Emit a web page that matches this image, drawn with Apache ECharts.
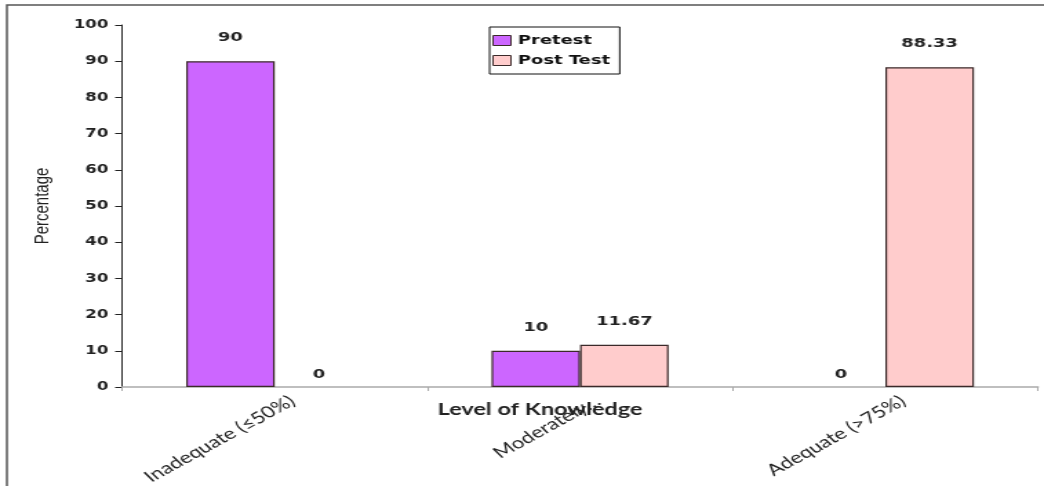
<!DOCTYPE html>
<html>
<head>
<meta charset="utf-8">
<script src="https://cdn.jsdelivr.net/npm/echarts@6/dist/echarts.min.js"></script>
<style>
  html, body { margin: 0; padding: 0; background: #fff; overflow: hidden; }
  #wrap { width: 1044px; height: 486px; overflow: hidden; }
  /* the figure is laid out narrower and widened to the full frame */
  #chart { width: 757px; height: 486px; transform: scaleX(1.3791); transform-origin: 0 0; }
</style>
</head>
<body>
<div id="wrap"><div id="chart"></div></div>
<script>
const categories = ['Inadequate (≤50%)', 'Moderately…', 'Adequate (>75%)'];
const seriesNames = ['Pretest', 'Post Test'];
const pretest = [90, 10, 0];
const postTest = [0, 11.67, 88.33];
const yTicks = { min: 0, max: 100, interval: 10 };

const colors = ['#cc66ff', '#ffcccc'];
const valueFont = { fontFamily: 'DejaVu Sans', fontWeight: 'bold', fontSize: 13, color: '#222' };

function barSeries(name, values, color) {
  return {
    name: name,
    type: 'bar',
    barGap: '0%',
    barCategoryGap: '42%',
    itemStyle: { color: color, borderColor: '#3b2a2a', borderWidth: 1.2 },
    data: values.map(v => ({
      value: v,
      // an empty bar keeps its value label but shows no outline
      itemStyle: v === 0 ? { borderWidth: 0 } : undefined,
      label: {
        show: true,
        position: 'top',
        distance: v === 0 ? 6 : 17,
        formatter: p => String(p.value),
        ...valueFont
      }
    }))
  };
}

const chart = echarts.init(document.getElementById('chart'), null, { renderer: 'canvas' });
chart.setOption({
  animation: false,
  backgroundColor: '#fff',
  grid: { left: 88.5, right: 4.3, top: 25, bottom: 99, containLabel: false, outerBoundsMode: 'none' },
  legend: {
    data: seriesNames,
    orient: 'vertical',
    left: 355,
    top: 27,
    itemWidth: 13,
    itemHeight: 10,
    itemGap: 7,
    padding: [7, 7, 7, 2],
    borderColor: '#111',
    borderWidth: 1,
    backgroundColor: '#fff',
    icon: 'rect',
    itemStyle: { borderColor: '#3b2a2a', borderWidth: 1 },
    textStyle: { fontFamily: 'DejaVu Sans', fontWeight: 'bold', fontSize: 13, color: '#111' }
  },
  xAxis: {
    type: 'category',
    data: categories,
    name: 'Level of Knowledge',
    nameLocation: 'middle',
    nameGap: 14,
    nameMoveOverlap: false,
    nameTextStyle: {
      fontFamily: 'Lato', fontWeight: 'bold', fontSize: 17, color: '#222',
      padding: [0, 58, 0, 0]
    },
    axisLine: { lineStyle: { color: '#aaaaaa', width: 1.5 } },
    axisTick: { show: true, length: 4, lineStyle: { color: '#aaaaaa' } },
    axisLabel: {
      rotate: 37, margin: 12, verticalAlign: 'top', padding: [0, -10, 0, 0],
      fontFamily: 'Lato', fontSize: 16, color: '#222'
    }
  },
  yAxis: {
    type: 'value',
    min: yTicks.min,
    max: yTicks.max,
    interval: yTicks.interval,
    name: 'Percentage',
    nameLocation: 'middle',
    nameRotate: 90,
    nameGap: 50,
    nameTextStyle: { fontFamily: 'Liberation Sans', fontSize: 15, color: '#222' },
    splitLine: { show: false },
    axisLine: { show: true, lineStyle: { color: '#222', width: 1 } },
    axisTick: { show: true, inside: false, length: 5, lineStyle: { color: '#222' } },
    axisLabel: { margin: 10, fontFamily: 'DejaVu Sans', fontWeight: 'bold', fontSize: 12, color: '#222' }
  },
  graphic: [{
    type: 'rect',
    silent: true,
    z: -1,
    shape: { x: 5, y: 5, width: 2000, height: 2000 },
    style: { fill: 'none', stroke: '#555', lineWidth: 1.5 }
  }],
  series: [
    barSeries(seriesNames[0], pretest, colors[0]),
    barSeries(seriesNames[1], postTest, colors[1])
  ]
});
</script>
</body>
</html>
